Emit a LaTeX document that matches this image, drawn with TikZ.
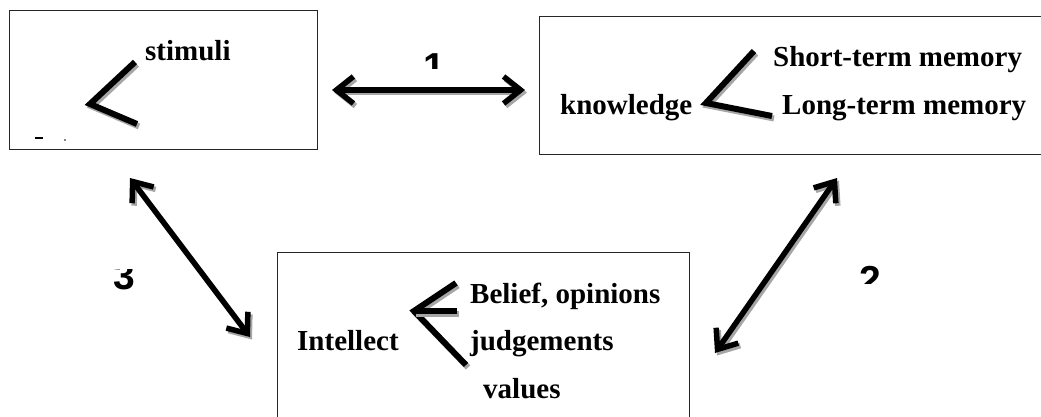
\documentclass[tikz,border=0pt]{standalone}
\usepackage{fontspec}
\setmainfont{Liberation Serif}
\newfontfamily\digitfont{Liberation Sans}
\usetikzlibrary{arrows.meta}

% draw a path twice: a grey copy nudged down-right, then the black stroke
\newcommand\castdraw[2]{%
  \begin{scope}[transform canvas={shift={(2pt,-2.5pt)}}]
    \draw[#1, draw=black!35] #2;
  \end{scope}
  \draw[#1] #2;}

\begin{document}
\begin{tikzpicture}[x=1pt,y=-1pt,
  boxframe/.style={draw=black!85, line width=1.4pt, inner sep=0pt, anchor=north west},
  lbl/.style={inner sep=0pt, anchor=base west, font=\fontsize{29}{34}\selectfont\bfseries},
  num/.style={inner sep=0pt, anchor=base west, font=\digitfont\fontsize{39}{44}\selectfont\bfseries},
  brace/.style={line width=6pt, line join=miter},
  barb/.tip={Straight Barb[length=17pt,width=27pt]},
  link/.style={line width=5.5pt, barb-barb},
]
\useasboundingbox (0,0) rectangle (1041,417);

% frames
\node[boxframe, minimum width=308pt, minimum height=139pt] (box1) at (9,10) {};
\node[boxframe, minimum width=510pt, minimum height=138pt] (box2) at (539,16) {};
\node[boxframe, minimum width=412pt, minimum height=172pt] (box3) at (277,252) {};

% upper-left frame
\node[lbl] (stim) at (145,61) {stimuli};
\castdraw{brace}{(135,62) -- (90,104) -- (137,124)}
\fill (35,137) rectangle (43,139.5);
\fill (65,140) circle (0.8pt);

% upper-right frame
\node[lbl] (know) at (560,115) {knowledge};
\node[lbl] (stm) at (773,67) {Short-term memory};
\node[lbl] (ltm) at (782,115) {Long-term memory};
\castdraw{brace}{(754,51) -- (706,103) -- (772,116)}

% lower frame
\node[lbl] (intel) at (297,350) {Intellect};
\node[lbl] (belief) at (470,303) {Belief, opinions};
\node[lbl] (judge) at (470,350) {judgements};
\node[lbl] (vals) at (483,398) {values};
\castdraw{brace}{(456,283) -- (414,311) -- (466,365)}
\castdraw{brace}{(414,311) -- (457,311)}

% connector ends
\coordinate (a1s) at (332,90);
\coordinate (a1e) at (525,90);
\coordinate (a2s) at (837,178);
\coordinate (a2e) at (715,353);
\coordinate (a3s) at (130,178);
\coordinate (a3e) at (250,337);

\castdraw{link}{(a1s) -- (a1e)}
\castdraw{link}{(a2s) -- (a2e)}
\castdraw{link}{(a3s) -- (a3e)}

% partly hidden numbers
\begin{scope}
  \clip (400,40) rectangle (460,69);
  \node[num] (n1) at (423,81) {1};
\end{scope}
\begin{scope}
  \clip (840,250) rectangle (900,283);
  \node[num] (n2) at (859,293) {2};
\end{scope}
\begin{scope}
  \clip (100,269) rectangle (150,300);
  \node[num] (n3) at (113,289) {3};
\end{scope}
\end{tikzpicture}
\end{document}
